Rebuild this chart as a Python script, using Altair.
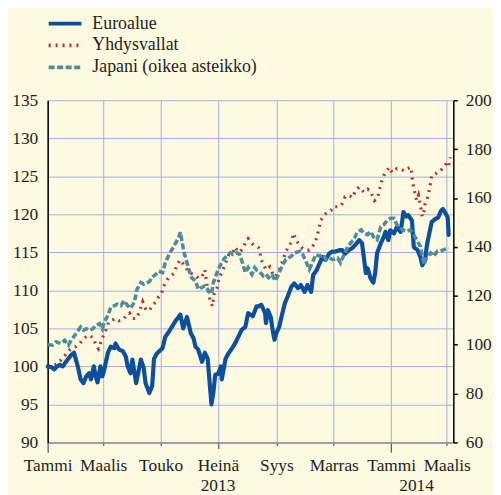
import altair as alt
import pandas as pd

series_names = ["Euroalue", "Yhdysvallat", "Japani (oikea asteikko)"]
series_colors = ["#0b4f9e", "#b23232", "#4f8c9c"]
series_dashes = [[1, 0], [2, 5], [6, 2.6]]

month_names = ["Tammi", "Helmi", "Maalis", "Huhti", "Touko", "Kesä",
               "Heinä", "Elo", "Syys", "Loka", "Marras", "Joulu"]
tick_dates = ["2013-01-01", "2013-03-01", "2013-05-01", "2013-07-01",
              "2013-09-01", "2013-11-01", "2014-01-01", "2014-03-01"]
year_labels = ["2013", "2014"]
year_label_dates = ["2013-07-01", "2014-01-28"]

left_ticks = [90, 95, 100, 105, 110, 115, 120, 125, 130, 135]
right_ticks = [60, 80, 100, 120, 140, 160, 180, 200]

# Euroalue (left axis)
euro_dates = [
    "2013-01-01", "2013-01-05", "2013-01-08", "2013-01-11", "2013-01-14", "2013-01-17", "2013-01-21", "2013-01-26", "2013-01-29", "2013-01-31",
    "2013-02-02", "2013-02-05", "2013-02-08", "2013-02-11", "2013-02-14", "2013-02-16", "2013-02-19", "2013-02-21", "2013-02-23", "2013-02-26",
    "2013-02-28", "2013-03-02", "2013-03-06", "2013-03-09", "2013-03-13", "2013-03-14", "2013-03-18", "2013-03-22", "2013-03-25", "2013-03-27",
    "2013-03-30", "2013-04-01", "2013-04-05", "2013-04-10", "2013-04-13", "2013-04-15", "2013-04-19", "2013-04-22", "2013-04-24", "2013-04-27",
    "2013-05-03", "2013-05-06", "2013-05-10", "2013-05-13", "2013-05-17", "2013-05-22", "2013-05-25", "2013-05-29", "2013-06-02", "2013-06-05",
    "2013-06-07", "2013-06-10", "2013-06-14", "2013-06-17", "2013-06-20", "2013-06-23", "2013-06-24", "2013-06-26", "2013-06-28", "2013-07-01",
    "2013-07-04", "2013-07-05", "2013-07-09", "2013-07-12", "2013-07-16", "2013-07-19", "2013-07-23", "2013-07-26", "2013-07-30", "2013-08-02",
    "2013-08-07", "2013-08-11", "2013-08-13", "2013-08-16", "2013-08-20", "2013-08-21", "2013-08-23", "2013-08-26", "2013-08-28", "2013-08-30",
    "2013-09-01", "2013-09-04", "2013-09-06", "2013-09-10", "2013-09-13", "2013-09-17", "2013-09-20", "2013-09-24", "2013-09-27", "2013-10-01",
    "2013-10-04", "2013-10-08", "2013-10-10", "2013-10-14", "2013-10-16", "2013-10-20", "2013-10-23", "2013-10-27", "2013-10-30", "2013-11-03",
    "2013-11-07", "2013-11-10", "2013-11-13", "2013-11-17", "2013-11-21", "2013-11-24", "2013-11-28", "2013-12-01", "2013-12-05", "2013-12-07",
    "2013-12-10", "2013-12-13", "2013-12-15", "2013-12-17", "2013-12-21", "2013-12-24", "2013-12-26", "2013-12-29", "2013-12-31", "2014-01-04",
    "2014-01-07", "2014-01-11", "2014-01-14", "2014-01-17", "2014-01-19", "2014-01-23", "2014-01-25", "2014-01-29", "2014-02-01", "2014-02-03",
    "2014-02-06", "2014-02-08", "2014-02-11", "2014-02-13", "2014-02-17", "2014-02-20", "2014-02-23", "2014-02-25", "2014-02-27", "2014-03-02",
    "2014-03-03",
]
euro_values = [
    100.0, 99.9, 99.6, 100.0, 100.2, 100.0, 100.7, 101.5, 101.8, 100.9,
    100.0, 98.3, 97.8, 98.7, 99.1, 98.3, 100.0, 98.7, 97.9, 100.0,
    98.7, 99.5, 101.8, 102.6, 102.4, 103.0, 102.2, 102.0, 101.3, 100.0,
    99.1, 100.9, 97.8, 100.9, 99.8, 97.8, 96.5, 97.4, 101.0, 101.7,
    102.4, 103.9, 104.6, 105.2, 106.0, 106.8, 105.0, 106.5, 104.4, 103.7,
    102.6, 102.2, 100.6, 101.8, 101.0, 96.5, 95.0, 96.5, 98.9, 99.0,
    100.0, 98.3, 101.0, 101.7, 102.4, 103.0, 104.0, 104.8, 105.2, 107.0,
    106.6, 107.9, 107.9, 108.1, 107.0, 105.7, 107.4, 106.5, 104.8, 103.5,
    104.4, 105.2, 106.3, 108.3, 109.2, 110.5, 110.9, 110.3, 110.7, 109.8,
    110.7, 109.8, 112.0, 112.7, 113.3, 114.4, 114.0, 114.8, 115.1, 115.1,
    115.3, 115.3, 114.8, 115.3, 115.6, 116.0, 116.6, 116.2, 112.3, 112.9,
    111.6, 111.0, 112.3, 114.9, 116.2, 117.0, 117.7, 116.6, 117.9, 117.5,
    118.3, 117.7, 120.3, 119.7, 119.9, 119.2, 115.7, 115.3, 114.4, 113.3,
    114.0, 116.0, 117.8, 119.0, 119.4, 119.6, 120.5, 120.7, 120.3, 119.6,
    117.3,
]

# Yhdysvallat (left axis)
us_dates = [
    "2013-01-01", "2013-01-07", "2013-01-12", "2013-01-17", "2013-01-21", "2013-01-26", "2013-01-31", "2013-02-04", "2013-02-07", "2013-02-11",
    "2013-02-14", "2013-02-19", "2013-02-21", "2013-02-24", "2013-02-28", "2013-03-04", "2013-03-07", "2013-03-11", "2013-03-14", "2013-03-18",
    "2013-03-22", "2013-03-25", "2013-03-29", "2013-04-01", "2013-04-05", "2013-04-08", "2013-04-12", "2013-04-15", "2013-04-19", "2013-04-22",
    "2013-04-26", "2013-04-29", "2013-05-02", "2013-05-04", "2013-05-08", "2013-05-11", "2013-05-15", "2013-05-19", "2013-05-22", "2013-05-26",
    "2013-05-31", "2013-06-03", "2013-06-07", "2013-06-10", "2013-06-14", "2013-06-17", "2013-06-19", "2013-06-22", "2013-06-25", "2013-06-27",
    "2013-06-30", "2013-07-02", "2013-07-05", "2013-07-09", "2013-07-12", "2013-07-16", "2013-07-19", "2013-07-23", "2013-07-26", "2013-07-30",
    "2013-08-02", "2013-08-06", "2013-08-09", "2013-08-13", "2013-08-14", "2013-08-16", "2013-08-18", "2013-08-21", "2013-08-25", "2013-08-28",
    "2013-08-31", "2013-09-04", "2013-09-08", "2013-09-11", "2013-09-17", "2013-09-19", "2013-09-22", "2013-09-26", "2013-09-29", "2013-10-03",
    "2013-10-06", "2013-10-10", "2013-10-13", "2013-10-15", "2013-10-18", "2013-10-22", "2013-10-25", "2013-10-29", "2013-10-31", "2013-11-03",
    "2013-11-07", "2013-11-10", "2013-11-13", "2013-11-17", "2013-11-21", "2013-11-24", "2013-11-28", "2013-12-03", "2013-12-07", "2013-12-10",
    "2013-12-14", "2013-12-17", "2013-12-19", "2013-12-21", "2013-12-24", "2013-12-30", "2014-01-02", "2014-01-07", "2014-01-11", "2014-01-15",
    "2014-01-18", "2014-01-22", "2014-01-23", "2014-01-24", "2014-01-26", "2014-01-28", "2014-01-30", "2014-02-01", "2014-02-03", "2014-02-05",
    "2014-02-06", "2014-02-09", "2014-02-12", "2014-02-13", "2014-02-17", "2014-02-20", "2014-02-22", "2014-02-26", "2014-03-01", "2014-03-03",
    "2014-03-05",
]
us_values = [
    100.0, 100.1, 100.4, 101.1, 101.7, 102.4, 102.6, 103.0, 103.5, 103.9,
    104.1, 103.7, 102.8, 102.3, 103.7, 104.8, 105.9, 106.1, 106.3, 106.0,
    106.1, 106.6, 107.0, 106.3, 106.3, 107.0, 108.5, 107.6, 107.3, 108.0,
    108.5, 109.2, 109.6, 110.5, 111.4, 111.8, 112.2, 113.5, 114.0, 113.3,
    112.4, 112.2, 112.0, 111.6, 111.8, 112.7, 110.9, 109.0, 107.9, 109.6,
    110.3, 111.6, 112.4, 113.5, 114.6, 114.8, 115.7, 115.0, 115.3, 116.2,
    116.8, 116.2, 115.8, 115.6, 115.3, 114.0, 113.5, 112.7, 113.1, 112.2,
    111.8, 112.7, 114.0, 115.1, 116.4, 117.5, 116.6, 115.9, 115.5, 115.3,
    115.3, 115.9, 116.6, 117.5, 119.2, 119.9, 120.3, 120.5, 121.0, 121.0,
    121.0, 121.4, 122.3, 122.5, 122.2, 123.1, 123.6, 122.9, 123.3, 123.1,
    121.8, 122.0, 122.9, 124.0, 125.1, 126.2, 125.5, 126.0, 126.0, 125.7,
    126.0, 126.2, 125.1, 124.0, 122.9, 121.8, 122.5, 121.2, 119.7, 120.5,
    121.4, 122.3, 124.2, 125.1, 125.3, 125.7, 125.7, 126.2, 126.8, 126.4,
    127.5,
]

# Japani (right axis)
jp_dates = [
    "2013-01-01", "2013-01-06", "2013-01-10", "2013-01-15", "2013-01-19", "2013-01-23", "2013-01-26", "2013-01-31", "2013-02-05", "2013-02-08",
    "2013-02-11", "2013-02-14", "2013-02-18", "2013-02-21", "2013-02-25", "2013-02-28", "2013-03-02", "2013-03-06", "2013-03-09", "2013-03-13",
    "2013-03-16", "2013-03-20", "2013-03-23", "2013-03-27", "2013-03-30", "2013-04-03", "2013-04-06", "2013-04-10", "2013-04-13", "2013-04-19",
    "2013-04-22", "2013-04-26", "2013-04-29", "2013-05-03", "2013-05-06", "2013-05-10", "2013-05-13", "2013-05-17", "2013-05-20", "2013-05-22",
    "2013-05-24", "2013-05-26", "2013-05-29", "2013-06-01", "2013-06-03", "2013-06-07", "2013-06-10", "2013-06-14", "2013-06-17", "2013-06-21",
    "2013-06-23", "2013-06-25", "2013-06-26", "2013-06-30", "2013-07-03", "2013-07-07", "2013-07-10", "2013-07-14", "2013-07-17", "2013-07-21",
    "2013-07-24", "2013-07-27", "2013-07-30", "2013-08-02", "2013-08-06", "2013-08-09", "2013-08-11", "2013-08-14", "2013-08-18", "2013-08-21",
    "2013-08-25", "2013-08-28", "2013-08-31", "2013-09-04", "2013-09-07", "2013-09-11", "2013-09-17", "2013-09-20", "2013-09-26", "2013-09-29",
    "2013-10-03", "2013-10-06", "2013-10-10", "2013-10-13", "2013-10-17", "2013-10-20", "2013-10-24", "2013-10-27", "2013-10-31", "2013-11-05",
    "2013-11-08", "2013-11-12", "2013-11-16", "2013-11-19", "2013-11-23", "2013-11-26", "2013-11-30", "2013-12-03", "2013-12-07", "2013-12-10",
    "2013-12-14", "2013-12-17", "2013-12-21", "2013-12-24", "2013-12-28", "2013-12-31", "2014-01-04", "2014-01-07", "2014-01-13", "2014-01-18",
    "2014-01-21", "2014-01-25", "2014-01-28", "2014-02-01", "2014-02-03", "2014-02-05", "2014-02-08", "2014-02-12", "2014-02-15", "2014-02-19",
    "2014-02-22", "2014-02-26", "2014-03-03",
]
jp_values = [
    100.0, 99.8, 101.2, 100.5, 101.8, 99.8, 101.8, 104.5, 107.2, 105.9,
    106.5, 105.9, 106.5, 107.9, 108.6, 106.5, 109.2, 111.9, 115.3, 116.0,
    116.6, 116.0, 118.0, 116.0, 114.9, 117.3, 122.7, 125.4, 124.7, 125.8,
    127.6, 128.8, 130.1, 129.5, 133.5, 136.9, 138.9, 141.6, 143.6, 146.0,
    141.6, 137.6, 133.5, 129.5, 127.4, 126.1, 122.7, 123.4, 124.1, 122.1,
    120.7, 122.7, 125.4, 129.5, 132.2, 134.9, 136.2, 137.6, 136.9, 137.6,
    136.9, 133.5, 129.5, 131.5, 128.8, 131.5, 130.5, 130.0, 128.1, 128.8,
    126.8, 128.1, 126.1, 129.5, 132.1, 134.8, 136.2, 137.5, 138.2, 136.9,
    133.5, 130.8, 134.2, 136.9, 136.2, 136.9, 134.8, 135.5, 134.8, 135.5,
    133.5, 136.9, 140.2, 141.6, 143.6, 146.0, 147.0, 145.6, 145.0, 146.3,
    143.6, 142.9, 148.3, 149.0, 151.0, 151.7, 151.7, 149.0, 147.0, 146.3,
    147.0, 145.0, 142.9, 140.2, 136.2, 132.8, 136.2, 137.5, 136.2, 138.2,
    138.2, 138.9, 139.6,
]

euro_df = pd.DataFrame({"date": euro_dates, "value": euro_values, "series": series_names[0]})
us_df = pd.DataFrame({"date": us_dates, "value": us_values, "series": series_names[1]})
jp_df = pd.DataFrame({"date": jp_dates, "value": jp_values, "series": series_names[2]})
year_df = pd.DataFrame({"date": year_label_dates, "label": year_labels})

TEXT = "#231f20"
GRID = "#a3b0e0"
FONT = "Liberation Serif"
FS = 17.5


def dt(s):
    t = pd.Timestamp(s)
    return alt.DateTime(year=t.year, month=t.month, date=t.day, utc=True)


month_expr = "[" + ",".join("'" + m + "'" for m in month_names) + "][utcmonth(datum.value)]"
is_jan = "utcmonth(datum.value) == 0"
is_jul = "utcmonth(datum.value) == 6"

x_scale = alt.Scale(type="utc", domain=[dt("2013-01-01"), dt("2014-03-08")])
x_axis = alt.Axis(
    values=[dt(d) for d in tick_dates], labelExpr=month_expr, title=None,
    grid=True, gridColor=GRID, gridWidth=1,
    domainColor="#8c8c8c", domainWidth=1.5, tickColor="#555555", tickWidth=1.2,
    tickSize={"condition": [{"test": is_jan, "value": 10}, {"test": is_jul, "value": 6}], "value": 3},
    labelPadding={"condition": [{"test": is_jan, "value": 4}, {"test": is_jul, "value": 8}], "value": 11},
    labelFont=FONT, labelFontSize=FS, labelColor=TEXT,
    labelOverlap=False, labelFlush=False, labelBound=False,
)
x_enc = alt.X("date:T", scale=x_scale, axis=x_axis)

legend = alt.Legend(
    title=None, orient="none", legendX=-1, legendY=-88, direction="vertical",
    labelFont=FONT, labelFontSize=18, labelColor=TEXT, labelOffset=9, labelLimit=400,
    symbolType="stroke", symbolSize=1089, symbolStrokeWidth=3.8,
    clipHeight=21.5, rowPadding=0, padding=0,
)
color_enc = alt.Color("series:N", scale=alt.Scale(domain=series_names, range=series_colors), legend=legend)
dash_enc = alt.StrokeDash("series:N", scale=alt.Scale(domain=series_names, range=series_dashes), legend=legend)

y_left = alt.Y(
    "value:Q", scale=alt.Scale(domain=[90, 135], nice=False, zero=False),
    axis=alt.Axis(orient="left", values=left_ticks, title=None, grid=True, gridColor=GRID,
                  domainColor="black", domainWidth=1.5, ticks=False, labelPadding=10,
                  labelFont=FONT, labelFontSize=FS, labelColor=TEXT),
)
y_right = alt.Y(
    "value:Q", scale=alt.Scale(domain=[60, 200], nice=False, zero=False),
    axis=alt.Axis(orient="right", values=right_ticks, title=None, grid=False,
                  domainColor="black", domainWidth=1.5, tickColor="black", tickSize=4, tickWidth=1.5,
                  labelPadding=8, labelFont=FONT, labelFontSize=FS, labelColor=TEXT),
)

us_line = alt.Chart(us_df).mark_line(strokeWidth=3.2, strokeCap="butt").encode(
    x=x_enc, y=y_left, color=color_enc, strokeDash=dash_enc)
euro_line = alt.Chart(euro_df).mark_line(strokeWidth=4.2, strokeJoin="round", strokeCap="round").encode(
    x=x_enc, y=y_left, color=color_enc, strokeDash=dash_enc)
jp_line = alt.Chart(jp_df).mark_line(strokeWidth=3.6, strokeCap="butt").encode(
    x=x_enc, y=y_right, color=color_enc, strokeDash=dash_enc)
years = alt.Chart(year_df).mark_text(font=FONT, fontSize=FS, color=TEXT, align="center", baseline="alphabetic").encode(
    x=x_enc, y=alt.value(394), text="label:N")

left = alt.layer(us_line, euro_line)
chart = alt.layer(left, jp_line, years).resolve_scale(y="independent").properties(
    width=409, height=345,
    autosize=alt.AutoSizeParams(type="none"),
    padding={"left": 40, "top": 91, "right": 40, "bottom": 55},
).configure(background="#fdfae1").configure_view(stroke="transparent")

chart.save("out.html", embed_options={"renderer": "svg", "actions": False})
